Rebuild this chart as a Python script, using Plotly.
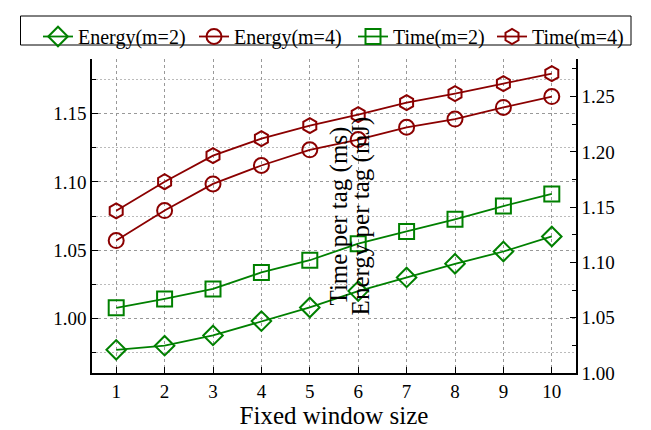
import plotly.graph_objects as go

window_size = [1, 2, 3, 4, 5, 6, 7, 8, 9, 10]
energy_m2 = [0.977, 0.980, 0.9875, 0.998, 1.008, 1.020, 1.030, 1.040, 1.049, 1.060]
energy_m4 = [1.057, 1.079, 1.0985, 1.112, 1.1235, 1.131, 1.140, 1.146, 1.1545, 1.1625]
time_m2 = [1.059, 1.067, 1.076, 1.091, 1.102, 1.117, 1.128, 1.139, 1.151, 1.162]
time_m4 = [1.1467, 1.173, 1.1966, 1.212, 1.2237, 1.2337, 1.2446, 1.2527, 1.2618, 1.2708]

GREEN = "#008000"
RED = "#8B0000"
FONT = "Liberation Serif"
W, H = 651, 430

fig = go.Figure()

def add(name, y, color, symbol, axis, legend):
    fig.add_trace(go.Scatter(
        x=window_size, y=y, name=name, mode="lines+markers", yaxis=axis,
        legend=legend,
        line=dict(color=color, width=1.8),
        marker=dict(symbol=symbol, size=15, color=color,
                    line=dict(color=color, width=2)),
    ))

add("Energy(m=2)", energy_m2, GREEN, "diamond-open", "y", "legend")
add("Energy(m=4)", energy_m4, RED, "circle-open", "y", "legend2")
add("Time(m=2)", time_m2, GREEN, "square-open", "y2", "legend3")
add("Time(m=4)", time_m4, RED, "hexagon-open", "y2", "legend4")

def leg(left_px):
    return dict(
        xref="container", yref="container",
        x=left_px / W, xanchor="left", y=1 - 9 / H, yanchor="top",
        borderwidth=0, bgcolor="rgba(0,0,0,0)",
        font=dict(family=FONT, size=20, color="black"), itemwidth=30,
    )

fig.update_layout(
    template="none",
    width=W, height=H,
    margin=dict(l=84, r=83, t=51, b=65, autoexpand=False),
    paper_bgcolor="white", plot_bgcolor="white",
    font=dict(family=FONT, size=19, color="black"),
    showlegend=True,
    legend=leg(30), legend2=leg(186), legend3=leg(345), legend4=leg(484),
    shapes=[dict(type="rect", xref="paper", yref="paper",
                 x0=(12.5 - 84) / 484, x1=(623 - 84) / 484,
                 y0=(365 - 37) / 314, y1=(365 - 8) / 314,
                 line=dict(color="black", width=1), fillcolor="white",
                 layer="above")],
    xaxis=dict(
        range=[0.5, 10.5], tickmode="array", tickvals=window_size,
        ticks="inside", ticklen=6, tickcolor="black",
        showline=True, linecolor="black", linewidth=1.5, mirror=False,
        showgrid=True, gridcolor="#999999", griddash="3px,3px", gridwidth=1,
        zeroline=False,
        title=dict(text="Fixed window size", font=dict(family=FONT, size=25, color="black"), standoff=6),
        tickfont=dict(family=FONT, size=19, color="black"),
    ),
    yaxis=dict(
        range=[0.96, 1.19], tickmode="linear", tick0=1.0, dtick=0.05,
        tickformat=".2f",
        ticks="inside", ticklen=6, tickcolor="black",
        showline=True, linecolor="black", linewidth=1.5,
        showgrid=True, gridcolor="#999999", griddash="3px,3px", gridwidth=1,
        minor=dict(dtick=0.025, tick0=0.975, ticks="inside", ticklen=4,
                   tickcolor="black", showgrid=True, gridcolor="#bbbbbb",
                   griddash="2px,2px", gridwidth=1),
        zeroline=False,
        title=dict(text="Energy per tag (mJ)", font=dict(family=FONT, size=25, color="black"), standoff=4),
        tickfont=dict(family=FONT, size=19, color="black"),
    ),
    yaxis2=dict(
        range=[1.0, 1.284], overlaying="y", side="right",
        tickmode="linear", tick0=1.0, dtick=0.05, tickformat=".2f",
        ticks="inside", ticklen=6, tickcolor="black",
        showline=True, linecolor="black", linewidth=1.5,
        showgrid=False, zeroline=False,
        minor=dict(dtick=0.025, tick0=1.0, ticks="inside", ticklen=4,
                   tickcolor="black", showgrid=False),
        title=dict(text="Time per tag (ms)", font=dict(family=FONT, size=25, color="black"), standoff=6),
        tickfont=dict(family=FONT, size=19, color="black"),
    ),
)

fig.write_html("out.html")
